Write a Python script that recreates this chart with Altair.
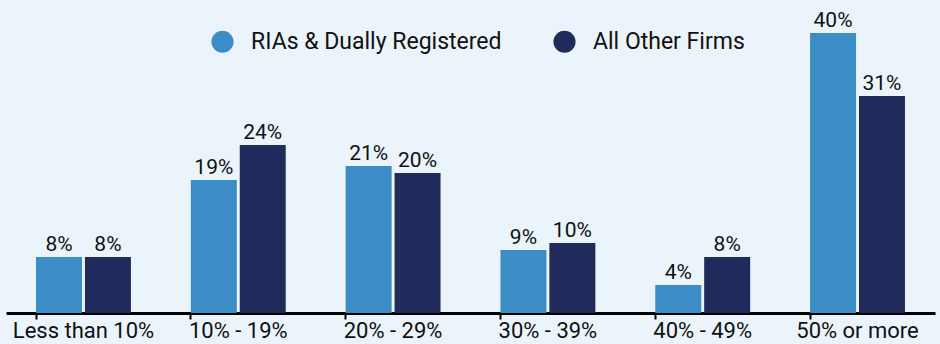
import altair as alt
import pandas as pd

categories = ["Less than 10%", "10% - 19%", "20% - 29%", "30% - 39%", "40% - 49%", "50% or more"]
series = ["RIAs & Dually Registered", "All Other Firms"]
ria_values = [8, 19, 21, 9, 4, 40]
other_values = [8, 24, 20, 10, 8, 31]
colors = ["#3C8DC6", "#212B5B"]

rows = []
for c, a, b in zip(categories, ria_values, other_values):
    rows.append({"cat": c, "series": series[0], "value": a, "label": f"{a}%"})
    rows.append({"cat": c, "series": series[1], "value": b, "label": f"{b}%"})
df = pd.DataFrame(rows)

FONT = "Roboto"

x = alt.X("cat:N", sort=categories, title=None,
          scale=alt.Scale(paddingInner=0.387, paddingOuter=0.194),
          axis=alt.Axis(labelAngle=0, labelFont=FONT, labelFontSize=22, labelColor="#111111",
                        domainColor="#000000", domainWidth=3, tickColor="#000000", tickWidth=2,
                        tickSize=6, bandPosition=0, labelPadding=1))
xo = alt.XOffset("series:N", sort=series, scale=alt.Scale(paddingInner=0.06, paddingOuter=0))
y = alt.Y("value:Q", scale=alt.Scale(domain=[0, 313 / 7], nice=False, zero=True), axis=None)

bars = alt.Chart(df).mark_bar().encode(
    x=x, xOffset=xo, y=y,
    color=alt.Color("series:N", sort=series, scale=alt.Scale(domain=series, range=colors),
                    legend=alt.Legend(title=None, orient="none", direction="horizontal",
                                      legendX=205, legendY=30, symbolType="circle", symbolSize=490,
                                      symbolStrokeWidth=0, labelFont=FONT, labelFontSize=23,
                                      labelColor="#111111", labelOffset=17, columnPadding=51,
                                      labelLimit=400)),
)

text = alt.Chart(df).mark_text(baseline="alphabetic", dy=-6, font=FONT, fontSize=21, color="#111111").encode(
    x=x, xOffset=xo, y=y, text="label:N"
)

chart = alt.layer(bars, text).properties(
    width=929, height=313,
    background="#EBF4FA",
    padding={"left": 6, "top": 0, "right": 5, "bottom": 31},
    autosize=alt.AutoSizeParams(type="none"),
).configure_view(stroke=None)

chart.save("out.html", embed_options={"renderer": "svg", "actions": False})
